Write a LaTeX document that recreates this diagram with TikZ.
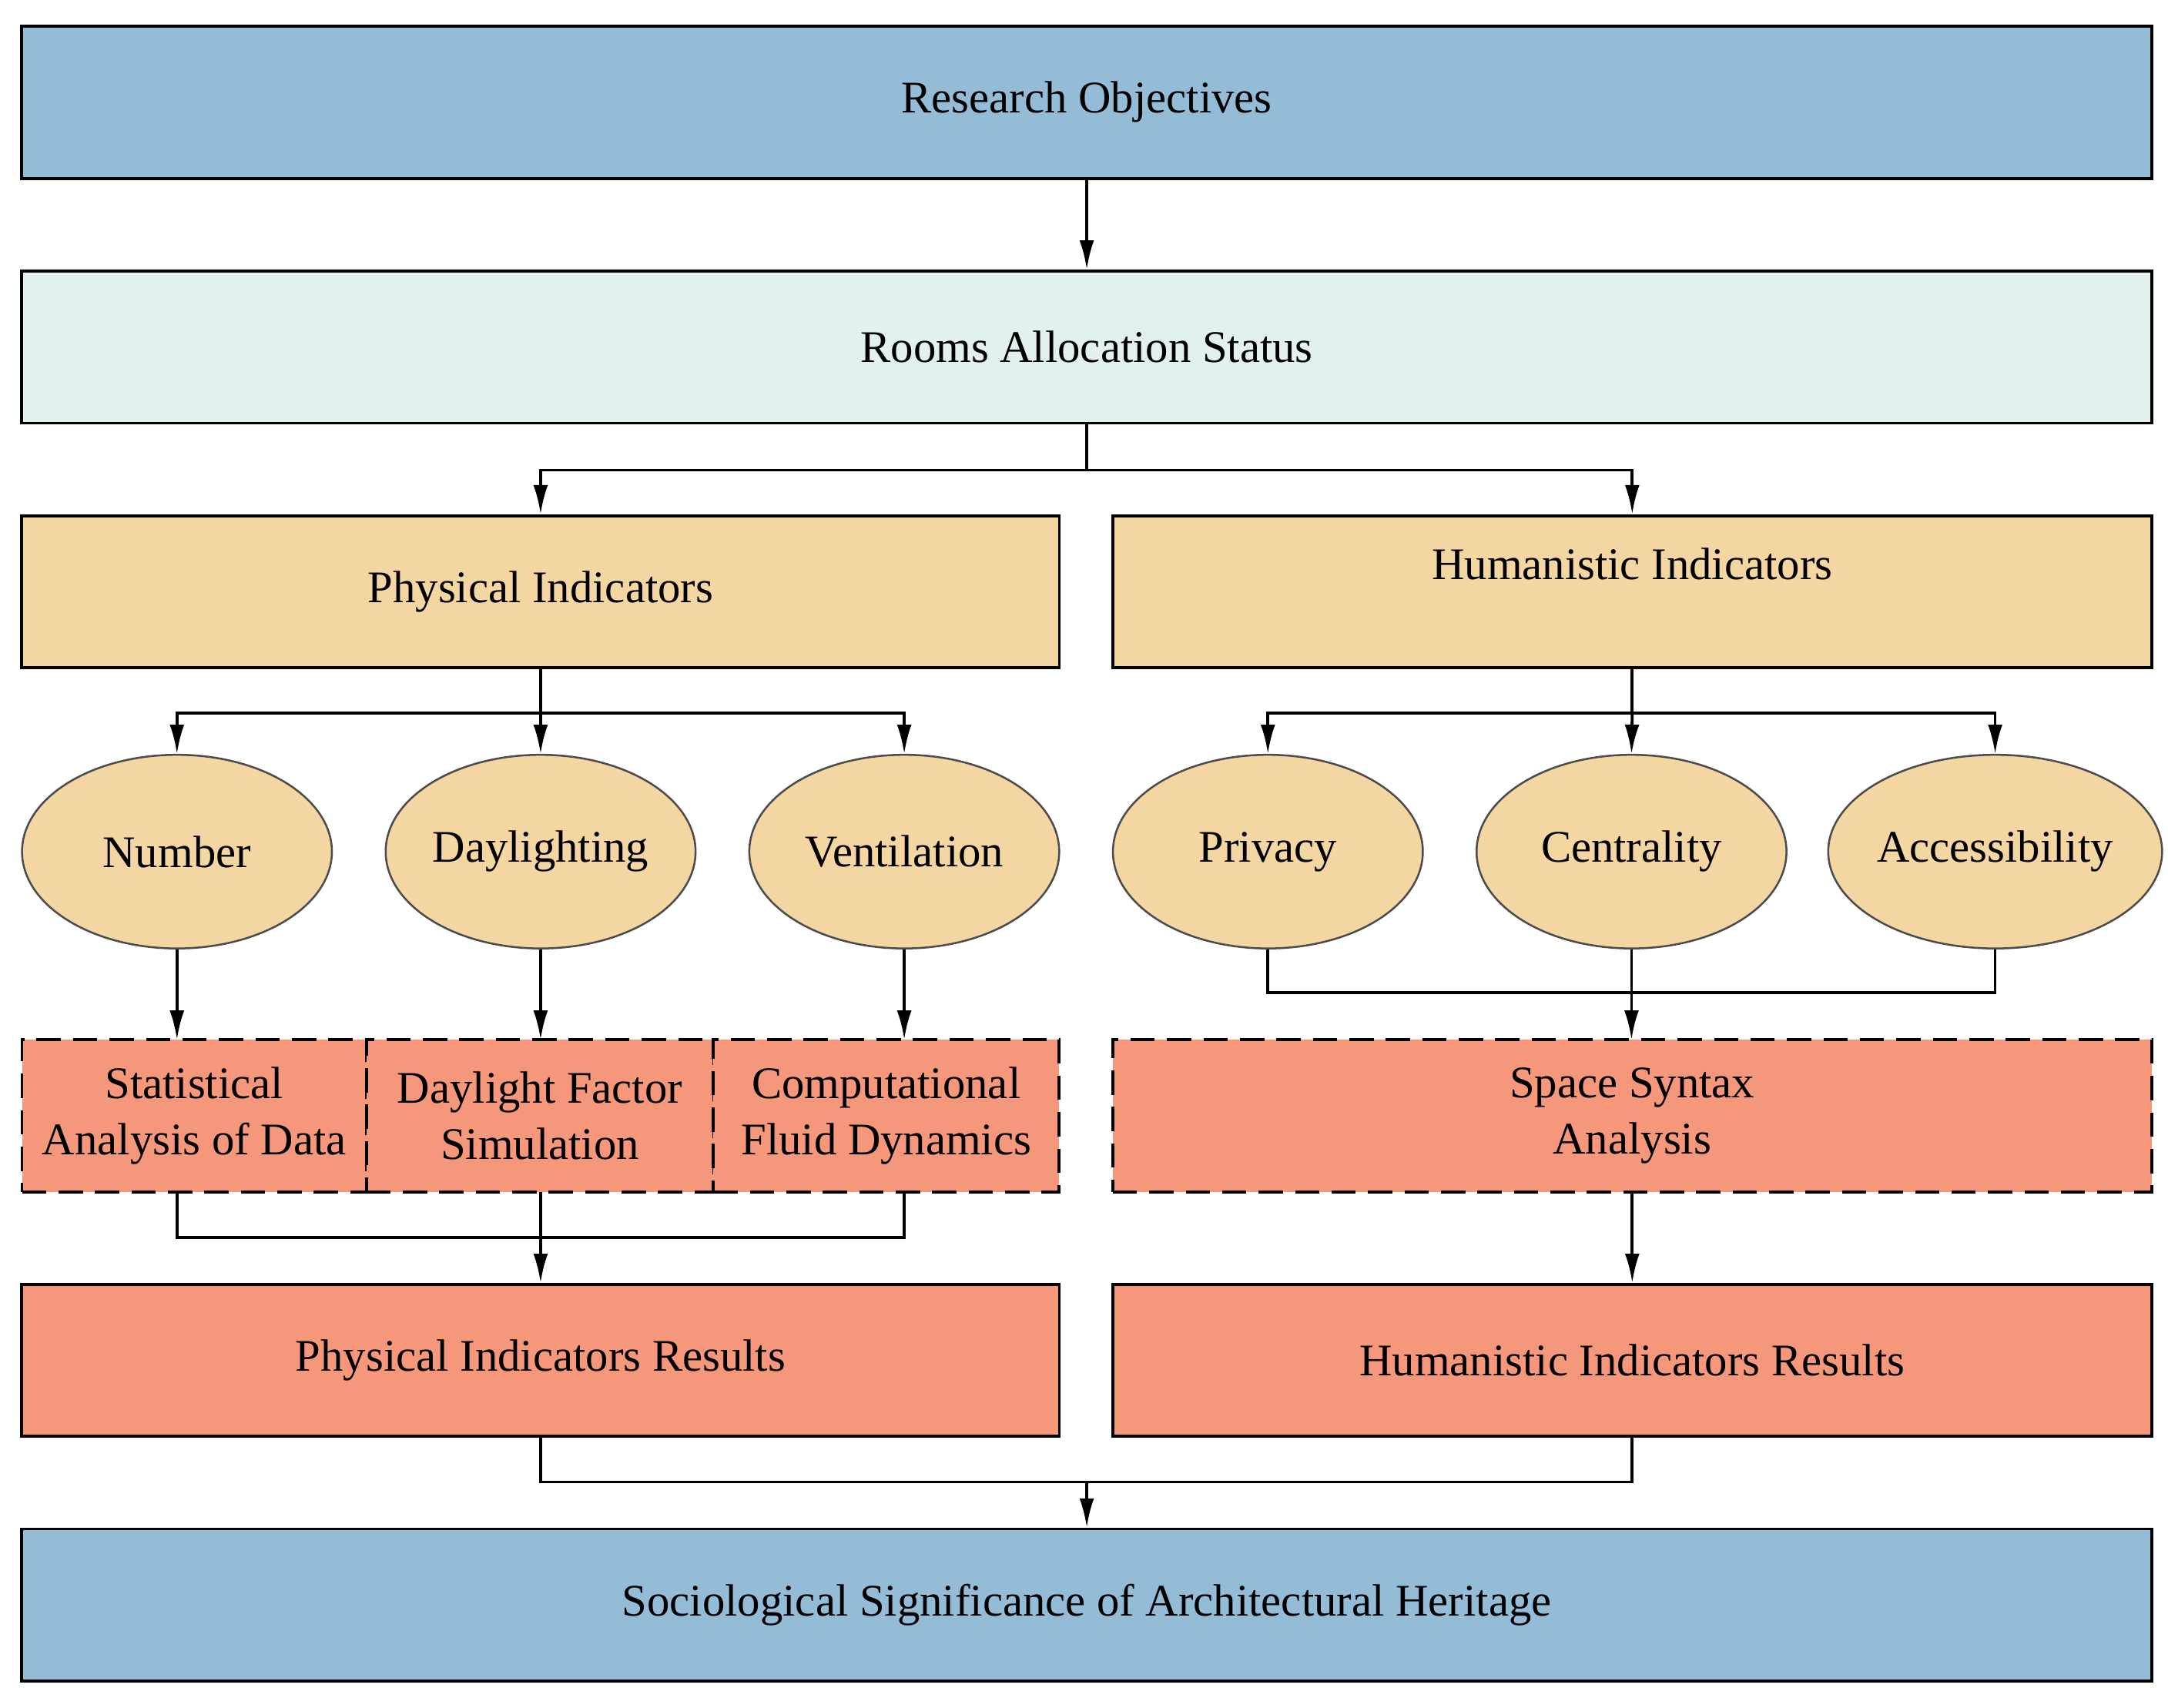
\documentclass[tikz,border=0pt]{standalone}
\usepackage{fontspec}
\setmainfont{Liberation Serif}
\usetikzlibrary{arrows.meta,shapes.geometric}
\definecolor{cblue}{HTML}{94BCD6}
\definecolor{clight}{HTML}{E3F0F0}
\definecolor{ctan}{HTML}{F4D6A3}
\definecolor{csal}{HTML}{F4977A}
\begin{document}
\begin{tikzpicture}[x=0.01cm,y=-0.01cm,
  box/.style={draw=black,line width=0.6pt,minimum height=1.1cm,inner sep=0pt,align=center,font=\fontsize{9.3}{11.5}\selectfont},
  wide/.style={box,minimum width=15.4cm},
  half/.style={box,minimum width=7.5cm},
  dbox/.style={box,fill=csal,dash pattern=on 5pt off 2.5pt},
  ell/.style={ellipse,draw=black!70,line width=0.4pt,fill=ctan,minimum width=2.24cm,minimum height=1.4cm,inner sep=0pt,font=\fontsize{9.3}{11.5}\selectfont},
  arr/.style={-{Latex[length=6pt,width=3pt]},line width=0.6pt},
  ln/.style={line width=0.6pt}]
\useasboundingbox (0,0) rectangle (1568,1235);
\node[wide,fill=cblue] (ro) at (786,74) {Research Objectives};
\node[wide,fill=clight] (rs) at (786,251) {Rooms Allocation Status};
\node[half,fill=ctan] (pi) at (391,428) {Physical Indicators};
\node[half,fill=ctan,minimum width=7.51cm] (hi) at (1180.5,428) {};
\node[font=\fontsize{9.3}{11.5}\selectfont] (hit) at (1180.5,408) {Humanistic Indicators};
\node[ell] (e1) at (128,616) {Number};
\node[ell] (e2) at (391,616) {Daylighting};
\node[ell] (e3) at (654,616) {Ventilation};
\node[ell] (e4) at (917,616) {Privacy};
\node[ell] (e5) at (1180,616) {Centrality};
\node[ell] (e6) at (1443,616) {Accessibility};
\node[dbox,minimum width=2.49cm] (d1) at (140.5,807) {Statistical\\Analysis of Data};
\node[dbox,minimum width=2.51cm] (d2) at (390.5,807) {Daylight Factor\\Simulation};
\node[dbox,minimum width=2.5cm] (d3) at (641,807) {Computational\\Fluid Dynamics};
\node[dbox,minimum width=7.51cm] (d4) at (1180.5,807) {Space Syntax\\Analysis};
\node[half,fill=csal] (pr) at (391,984) {Physical Indicators Results};
\node[half,fill=csal,minimum width=7.51cm] (hr) at (1180.5,984) {Humanistic Indicators Results};
\node[wide,fill=cblue] (ss) at (786,1161) {Sociological Significance of Architectural Heritage};
\coordinate (j1) at (786,340);
\draw[arr] (ro.south) -- (rs.north);
\draw[ln] (rs.south) -- (j1);
\draw[arr] (j1) -| (pi.north);
\draw[arr] (j1) -| (hi.north);
\draw[ln] (pi.south) -- (391,516);
\draw[arr] (391,516) -| (e1.north);
\draw[arr] (391,516) -- (e2.north);
\draw[arr] (391,516) -| (e3.north);
\draw[ln] (hi.south) -- (1180.5,516);
\draw[arr] (1180.5,516) -| (e4.north);
\draw[arr] (1180.5,516) -- (e5.north);
\draw[arr] (1180.5,516) -| (e6.north);
\draw[arr] (e1.south) -- (128,752);
\draw[arr] (e2.south) -- (391,752);
\draw[arr] (e3.south) -- (654,752);
\draw[ln] (e4.south) |- (e6.south |- 0,718) -- (e6.south);
\draw[arr] (e5.south) -- (1180,752);
\draw[ln] (128,862) |- (654,895) -- (654,862);
\draw[arr] (391,862) -- (pr.north);
\draw[arr] (d4.south) -- (hr.north);
\draw[ln] (pr.south) |- (hr.south |- 0,1072) -- (hr.south);
\draw[arr] (786,1072) -- (ss.north);
\end{tikzpicture}
\end{document}
